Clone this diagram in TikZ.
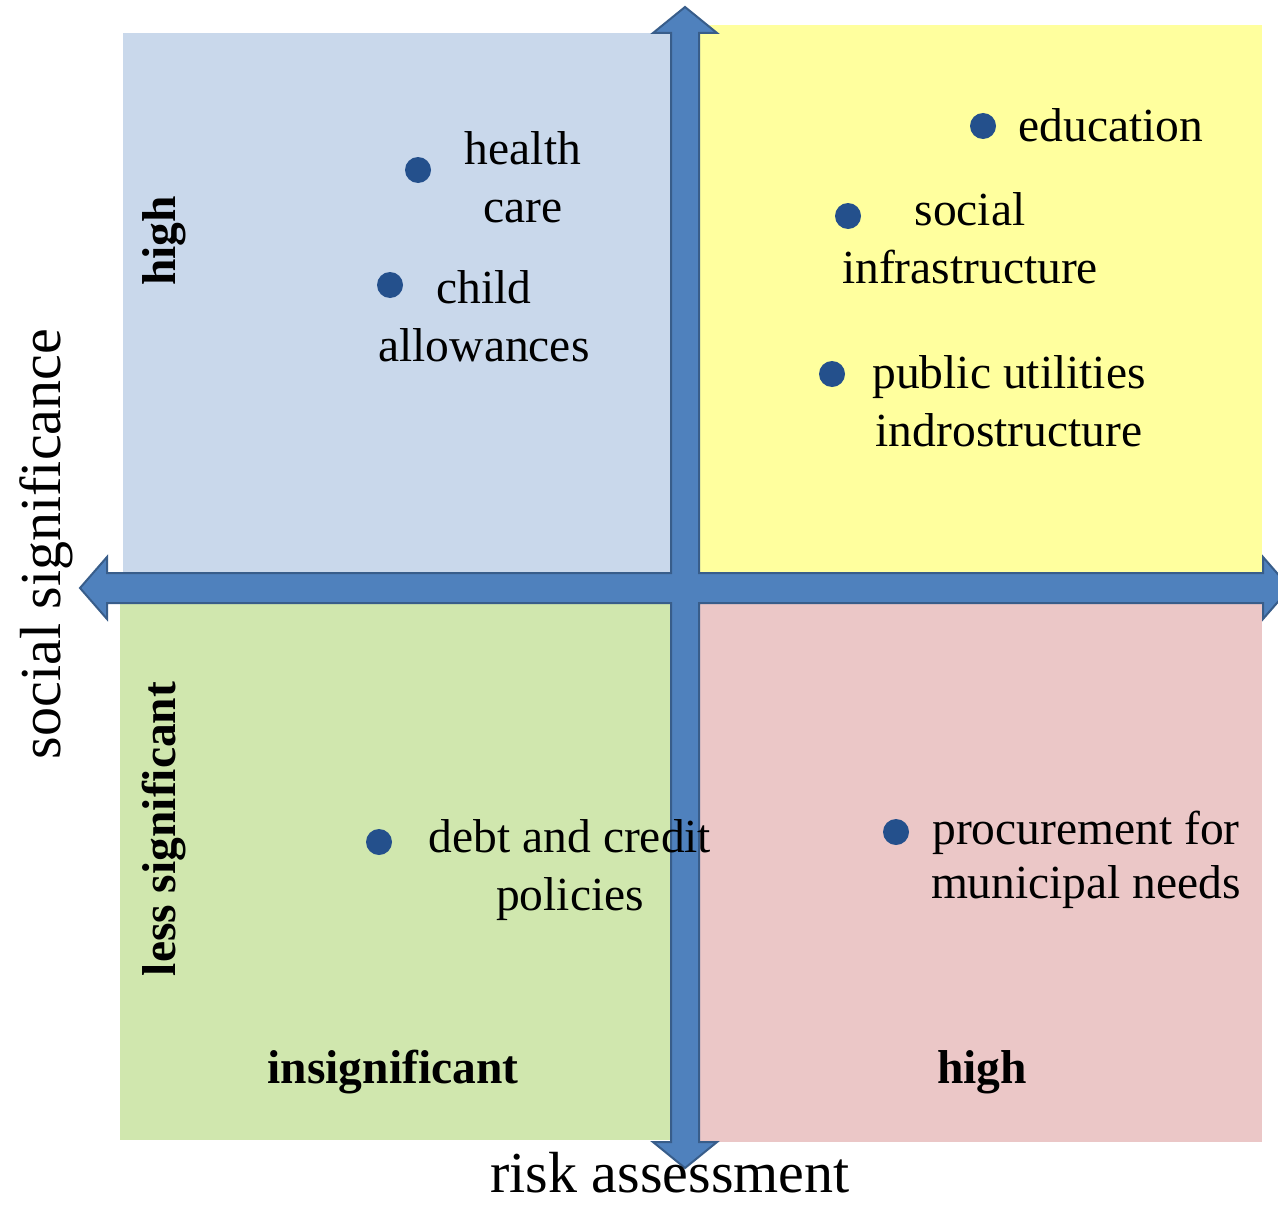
\documentclass[tikz,border=0pt]{standalone}
\usepackage{fontspec}
\setmainfont{Liberation Serif}
\definecolor{qblue}{HTML}{C9D8EB}
\definecolor{qyellow}{HTML}{FFFF9E}
\definecolor{qgreen}{HTML}{D0E7AE}
\definecolor{qpink}{HTML}{EBC7C7}
\definecolor{axfill}{HTML}{4F81BD}
\definecolor{axline}{HTML}{385D8A}
\definecolor{dotblue}{HTML}{24508C}
\begin{document}
\begin{tikzpicture}[x=0.5pt,y=-0.5pt,
  lbl/.style={inner sep=0pt, align=center, anchor=base,
    font=\fontsize{23.75}{28.75}\selectfont},
  blbl/.style={lbl, font=\fontsize{23.75}{28.75}\selectfont\bfseries},
  axtitle/.style={inner sep=0pt, anchor=base,
    font=\fontsize{29}{34}\selectfont},
  dot/.style={circle, fill=dotblue, inner sep=0pt, minimum size=13pt},
  axis/.style={fill=axfill, draw=axline, line width=1pt, line join=miter}]
\useasboundingbox (0,0) rectangle (1278,1204);
\clip (0,0) rectangle (1278,1204);
\fill[white] (0,0) rectangle (1278,1204);

% quadrants
\fill[qblue]   (123,33)  rectangle (685,588);
\fill[qyellow] (685,25)  rectangle (1262,588);
\fill[qgreen]  (120,588) rectangle (685,1140);
\fill[qpink]   (685,588) rectangle (1262,1142);

% the two crossed double arrows, outlined as one shape
\path[axis] (685,7) -- (717,33) -- (699,33) -- (699,573)
  -- (1263,573) -- (1263,557) -- (1290,588) -- (1263,619) -- (1263,603)
  -- (699,603) -- (699,1142) -- (717,1142) -- (685,1168) -- (653,1142)
  -- (671,1142) -- (671,603) -- (107,603) -- (107,619) -- (80,588)
  -- (107,557) -- (107,573) -- (671,573) -- (671,33) -- (653,33) -- cycle;

% items (a two-line label sits on the baseline of its last line)
\node[dot] (dHealth) at (418,170) {};
\node[lbl] (tHealth) at (523,222) {health\\care};
\node[dot] (dChild) at (390,285) {};
\node[lbl] (tChild) at (484,361) {child\\allowances};

\node[dot] (dEdu) at (983,126) {};
\node[lbl, anchor=base west] (tEdu) at (1018,141) {education};
\node[dot] (dSocial) at (848,216) {};
\node[lbl] (tSocial) at (970,283) {social\\infrastructure};
\node[dot] (dPublic) at (832,374) {};
\node[lbl] (tPublic) at (1009,446) {public utilities\\indrostructure};

\node[dot] (dDebt) at (379,842) {};
\node[lbl] (tDebt) at (570,910) {debt and credit\\policies};
\node[dot] (dProc) at (896,832) {};
\node[lbl] (tProc) at (1086,898) {procurement for\\[-2pt]municipal needs};

% quadrant levels
\node[blbl, rotate=90] (lvHigh) at (175,241) {high};
\node[blbl, rotate=90] (lvLess) at (175,829) {less significant};
\node[blbl] (lvInsig) at (393,1083) {insignificant};
\node[blbl] (lvRisk) at (982,1083) {high};

% axis titles
\node[axtitle, rotate=90] (yTitle) at (60,544) {social significance};
\node[axtitle] (xTitle) at (670,1192) {risk assessment};
\end{tikzpicture}
\end{document}
